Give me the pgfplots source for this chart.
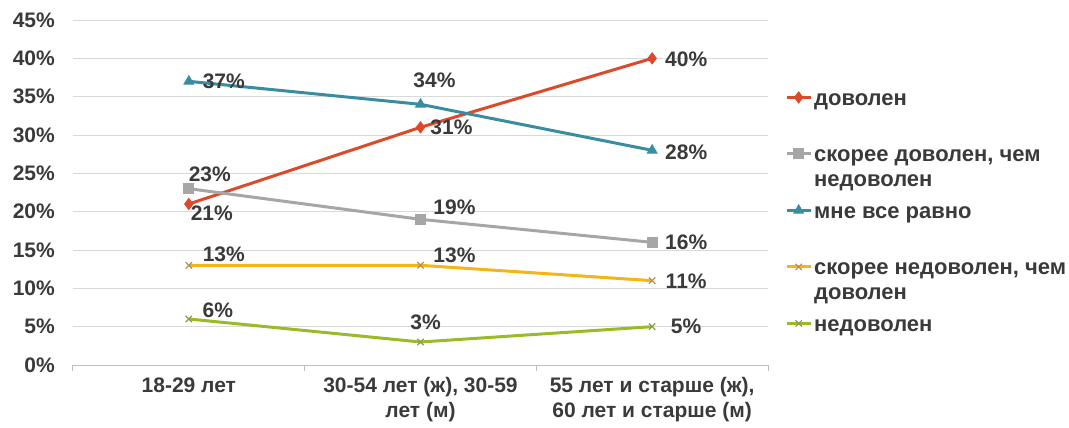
\documentclass[border=0pt]{standalone}
\usepackage{pgfplots}
\pgfplotsset{compat=1.18}
\usepackage{pgfplotstable}
\usepackage{fontspec}
\setmainfont{Liberation Sans}
\definecolor{cred}{HTML}{DC4A2C}
\definecolor{cgrey}{HTML}{A6A6A6}
\definecolor{cteal}{HTML}{3A8DA0}
\definecolor{cyel}{HTML}{F5B417}
\definecolor{cgreen}{HTML}{9BBA28}
\definecolor{txt}{HTML}{3A3A3A}
\definecolor{gridgrey}{HTML}{D9D9D9}
\definecolor{axgrey}{HTML}{BFBFBF}
\newcommand{\lf}{\fontsize{21bp}{25bp}\selectfont\bfseries}
\newcommand{\lgf}{\fontsize{22bp}{25bp}\selectfont\bfseries}
\newcommand{\legtwo}[2]{\raisebox{0pt}[17bp][0pt]{\parbox[t]{260bp}{\strut#1\\\strut#2}}}

% x y dx dy  (dx, dy: label offset in bp)
\pgfplotstableread{
x y dx dy
0 21 23 -9
1 31 31 0
2 40 34 -1
}\dovolen
\pgfplotstableread{
x y dx dy
0 23 21 14
1 19 34 12
2 16 34 0
}\skdov
\pgfplotstableread{
x y dx dy
0 37 35 0
1 34 14 24
2 28 34 -2
}\ravno
\pgfplotstableread{
x y dx dy
0 13 35 11
1 13 34 10
2 11 34 -1
}\sknedov
\pgfplotstableread{
x y dx dy
0 6 29 9
1 3 5 20
2 5 34 0
}\nedov

\begin{document}
\begin{tikzpicture}
\path[use as bounding box] (-73bp,-63bp) rectangle (996bp,365bp);
\begin{axis}[
  at={(0,0)}, anchor=south west,
  scale only axis, width=695bp, height=345bp,
  xmin=-0.5, xmax=2.5, ymin=0, ymax=45,
  xtick={0,1,2},
  xticklabels={{18-29 лет},{30-54 лет (ж), 30-59\\лет (м)},{55 лет и старше (ж),\\60 лет и старше (м)}},
  ytick={0,5,...,45},
  yticklabels={0\%,5\%,10\%,15\%,20\%,25\%,30\%,35\%,40\%,45\%},
  major tick length=0pt,
  extra x ticks={-0.5,0.5,1.5,2.5},
  extra x tick labels={},
  extra x tick style={major tick length=6bp, tick align=outside, tick style={draw=axgrey, line width=1bp}},
  axis x line*=bottom, axis y line*=left,
  x axis line style={draw=axgrey, line width=1bp, -},
  y axis line style={draw=none},
  ymajorgrids, grid style={draw=gridgrey, line width=1bp},
  tick label style={font=\lf, text=txt},
  xticklabel style={align=center, yshift=-9bp},
  yticklabel style={inner sep=0pt, xshift=-18bp},
  clip=false,
  every axis plot/.append style={line width=3bp},
  point meta=y,
  nodes near coords={\pgfmathprintnumber[assume math mode=true]{\pgfplotspointmeta}\%},
  visualization depends on={\thisrow{dx} \as \labdx},
  visualization depends on={\thisrow{dy} \as \labdy},
  every node near coord/.append style={anchor=center, xshift=\labdx bp, yshift=\labdy bp, font=\lf, text=txt, inner sep=0pt},
  legend image code/.code={\draw[mark repeat=2,mark phase=2,#1] plot coordinates {(0bp,0bp) (12bp,0bp) (24bp,0bp)};},
  legend style={at={(rel axis cs:1,1)}, anchor=north west, xshift=14bp, yshift=-66bp,
    draw=none, fill=none, font=\lgf, text=txt, nodes={inner sep=0pt}, row sep=38bp, column sep=2bp},
  legend cell align=left,
]
\addplot[cred, mark=diamond*, mark size=5.5bp, mark options={solid, fill=cred, line width=1bp}] table[x=x,y=y] {\dovolen};
\addlegendentry{\legtwo{доволен}{}}
\addplot[cgrey, mark=square*, mark size=5bp, mark options={solid, fill=cgrey, line width=1bp}] table[x=x,y=y] {\skdov};
\addlegendentry{\legtwo{скорее доволен, чем}{недоволен}}
\addplot[cteal, mark=triangle*, mark size=5.5bp, mark options={solid, fill=cteal, line width=1bp}] table[x=x,y=y] {\ravno};
\addlegendentry{\legtwo{мне все равно}{}}
\addplot[cyel, mark=x, mark size=4.5bp, mark options={solid, draw=cyel!40!gray, line width=1.2bp}] table[x=x,y=y] {\sknedov};
\addlegendentry{\legtwo{скорее недоволен, чем}{доволен}}
\addplot[cgreen, mark=x, mark size=4.5bp, mark options={solid, draw=cgreen!50!gray, line width=1.2bp}] table[x=x,y=y] {\nedov};
\addlegendentry{\legtwo{недоволен}{}}
\end{axis}
\end{tikzpicture}
\end{document}
